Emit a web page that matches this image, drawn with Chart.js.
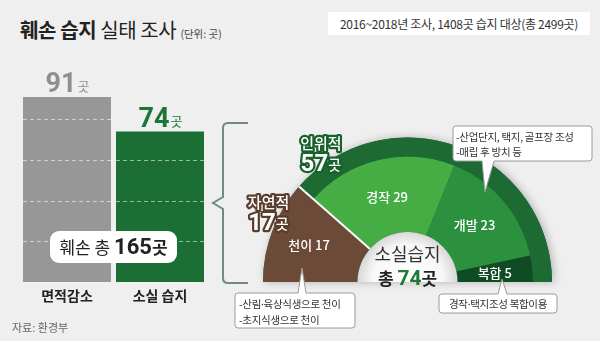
<!DOCTYPE html>
<html><head><meta charset="utf-8">
<script src="https://cdn.jsdelivr.net/npm/chart.js@4/dist/chart.umd.min.js"></script>
<style>
body{margin:0;}
#wrap{position:relative;width:600px;height:358px;background:#efefef;overflow:hidden;font-family:"Noto Sans CJK KR","Noto Sans",sans-serif;}
canvas{position:absolute;left:0;top:0;}
svg{position:absolute;left:0;top:0;}
.t{position:absolute;white-space:nowrap;line-height:1;}
.d{font-family:"Noto Sans",sans-serif;}
</style></head>
<body><div id="wrap">
<div style="position:absolute;left:0;top:341px;width:600px;height:17px;background:#fff"></div>
<div class="t" style="left:20px;top:20px;font-size:20px;color:#222;letter-spacing:-0.4px"><b>훼손 습지</b> 실태 조사 <span style="font-size:10.5px;color:#444;letter-spacing:0">(단위: 곳)</span></div>
<div class="t" style="left:328px;top:12px;width:262px;height:23px;background:#fff;font-size:12px;color:#333;line-height:23px;text-align:center;letter-spacing:-0.3px">2016~2018년 조사, 1408곳 습지 대상(총 2499곳)</div>
<canvas id="bar" width="600" height="358"></canvas>
<canvas id="donut" width="600" height="358"></canvas>
<svg width="600" height="358">
  <path d="M248 123 H228 Q223 123 223 128 V197 L213 203 L223 209 V278 Q223 283 228 283 H248" fill="none" stroke="#6e8c85" stroke-width="2"/>
  <path d="M456 126 H589 Q592 126 592 129 V158 Q592 161 589 161 H494 L485 192 L482 161 H456 Q453 161 453 158 V129 Q453 126 456 126 Z" fill="#fff" stroke="#9a9a9a" stroke-width="1"/>
  <path d="M238 293 H298 L302 268 L306 293 H352 Q355 293 355 296 V325 Q355 328 352 328 H238 Q235 328 235 325 V296 Q235 293 238 293 Z" fill="#fff" stroke="#9a9a9a" stroke-width="1"/>
  <path d="M442 294 H498 L502 279 L507 294 H554 Q557 294 557 297 V310 Q557 313 554 313 H442 Q439 313 439 310 V297 Q439 294 442 294 Z" fill="#fff" stroke="#9a9a9a" stroke-width="1"/>
</svg>
<div class="t" style="left:456px;top:132px;font-size:10.5px;color:#333;letter-spacing:-0.3px">-산업단지, 택지, 골프장 조성</div>
<div class="t" style="left:456px;top:147px;font-size:10.5px;color:#333;letter-spacing:-0.3px">-매립 후 방치 등</div>
<div class="t" style="left:239px;top:299px;font-size:10.5px;color:#333;letter-spacing:-0.3px">-산림<span class="d">·</span>육상식생으로 천이</div>
<div class="t" style="left:239px;top:315px;font-size:10.5px;color:#333;letter-spacing:-0.3px">-초지식생으로 천이</div>
<div class="t" style="left:439px;top:298.5px;width:118px;text-align:center;font-size:10.5px;color:#333;letter-spacing:-0.3px">경작<span class="d">·</span>택지조성 복합이용</div>
<div class="t" style="left:12px;top:322px;font-size:11px;color:#666">자료: 환경부</div>
</div>
<script>
// ---- data ----
const barCats = ['면적감소', '소실 습지'];
const barVals = [91, 74];
const barUnit = '곳';
const gridTicks = [20, 40, 60, 80];
const damagedTotal = 165;

const outerLabels = ['자연적', '인위적'];
const outerVals = [17, 57];
const innerLabels = ['천이', '경작', '개발', '복합'];
const innerVals = [17, 29, 23, 5];
const lostTotal = 74;

const FONT = '"Noto Sans CJK KR","Noto Sans",sans-serif';
const NUMFONT = '"Liberation Sans Narrow","Roboto",sans-serif';

// ---- bar chart ----
const barDeco = {
  id: 'barDeco',
  afterDatasetsDraw(chart) {
    const ctx = chart.ctx, ys = chart.scales.y;
    const meta = chart.getDatasetMeta(0);
    const valColors = ['#8e8e8e', '#1d7636'];
    meta.data.forEach((bar, i) => {
      const l = bar.x - bar.width / 2, r = bar.x + bar.width / 2;
      ctx.save();
      ctx.strokeStyle = 'rgba(255,255,255,0.55)';
      ctx.lineWidth = 1;
      ctx.setLineDash([4, 3]);
      gridTicks.forEach(v => {
        if (v < barVals[i]) {
          const y = Math.round(ys.getPixelForValue(v)) + 0.5;
          ctx.beginPath(); ctx.moveTo(l, y); ctx.lineTo(r, y); ctx.stroke();
        }
      });
      ctx.setLineDash([]);
      const numTxt = String(barVals[i]);
      ctx.font = 'bold 27px ' + NUMFONT;
      const wn = ctx.measureText(numTxt).width;
      ctx.font = '13px ' + FONT;
      const wu = ctx.measureText(barUnit).width;
      const x0 = bar.x - (wn + wu) / 2;
      const by = bar.y - 5;
      ctx.fillStyle = valColors[i];
      ctx.textBaseline = 'alphabetic';
      ctx.textAlign = 'left';
      ctx.font = 'bold 27px ' + NUMFONT;
      ctx.fillText(numTxt, x0, by);
      ctx.font = '13px ' + FONT;
      ctx.fillText(barUnit, x0 + wn + 1, by - 1);
      ctx.fillStyle = '#222';
      ctx.font = 'bold 14px ' + FONT;
      ctx.textAlign = 'center';
      ctx.textBaseline = 'middle';
      ctx.fillText(barCats[i], bar.x, ys.getPixelForValue(0) + 14);
      ctx.restore();
    });
    const b0 = meta.data[0], b1 = meta.data[1];
    const cx = (b0.x + b1.x) / 2, cy = 247;
    ctx.save();
    const w = 127, h = 32, rr = 9;
    ctx.fillStyle = '#fff';
    ctx.beginPath();
    ctx.roundRect(cx - w / 2, cy - h / 2, w, h, rr);
    ctx.fill();
    const p1 = '훼손 총 ', p2 = String(damagedTotal), p3 = barUnit;
    ctx.font = '17px ' + FONT; const w1 = ctx.measureText(p1).width;
    ctx.font = 'bold 22px ' + NUMFONT; const w2 = ctx.measureText(p2).width;
    ctx.font = 'bold 17px ' + FONT; const w3 = ctx.measureText(p3).width;
    let x = cx - (w1 + w2 + w3) / 2;
    ctx.fillStyle = '#222'; ctx.textBaseline = 'alphabetic'; ctx.textAlign = 'left';
    const base = cy + 7;
    ctx.font = '17px ' + FONT; ctx.fillText(p1, x, base); x += w1;
    ctx.font = 'bold 22px ' + NUMFONT; ctx.fillText(p2, x, base); x += w2;
    ctx.font = 'bold 17px ' + FONT; ctx.fillText(p3, x, base);
    ctx.restore();
  }
};

new Chart(document.getElementById('bar'), {
  type: 'bar',
  data: {
    labels: barCats,
    datasets: [{ data: barVals, backgroundColor: ['#979797', '#1b6e34'], borderWidth: 0, barPercentage: 0.946, categoryPercentage: 1 }]
  },
  options: {
    responsive: false, animation: false, events: [],
    layout: { padding: { left: 20.5, right: 393.5, top: 78.7, bottom: 76 } },
    scales: { x: { display: false }, y: { display: false, min: 0, max: 100 } },
    plugins: { legend: { display: false }, tooltip: { enabled: false } }
  },
  plugins: [barDeco]
});

// ---- half donut ----
const donutDeco = {
  id: 'donutDeco',
  beforeDatasetsDraw(chart) {
    const a = chart.getDatasetMeta(0).data[0];
    const ctx = chart.ctx;
    ctx.save();
    ctx.shadowColor = 'rgba(0,0,0,0.25)';
    ctx.shadowBlur = 8;
    ctx.shadowOffsetX = 2;
    ctx.fillStyle = '#1d6b33';
    ctx.beginPath();
    ctx.arc(a.x, a.y, a.outerRadius, Math.PI, 2 * Math.PI);
    ctx.closePath();
    ctx.fill();
    ctx.restore();
  },
  afterDatasetsDraw(chart) {
    const ctx = chart.ctx;
    const outer = chart.getDatasetMeta(0).data;
    const inner = chart.getDatasetMeta(1).data;
    const cx = inner[0].x, cy = inner[0].y;
    const rIn = inner[0].innerRadius, rOut = outer[0].outerRadius;
    ctx.save();
    const sep = inner[0].endAngle;
    ctx.strokeStyle = '#fff'; ctx.lineWidth = 2;
    ctx.beginPath();
    ctx.moveTo(cx + rIn * Math.cos(sep), cy + rIn * Math.sin(sep));
    ctx.lineTo(cx + rOut * Math.cos(sep), cy + rOut * Math.sin(sep));
    ctx.stroke();
    const g = ctx.createRadialGradient(cx, cy - 8, 0, cx, cy, rIn);
    g.addColorStop(0, '#ffffff'); g.addColorStop(0.7, '#f7f7f7'); g.addColorStop(1, '#d8d8d8');
    ctx.fillStyle = g;
    ctx.beginPath(); ctx.arc(cx, cy, rIn, Math.PI, 2 * Math.PI); ctx.closePath(); ctx.fill();
    ctx.textAlign = 'center'; ctx.textBaseline = 'middle';
    ctx.fillStyle = '#333';
    ctx.font = '18px ' + FONT;
    ctx.fillText('소실습지', cx, cy - 28);
    const q1 = '총 ', q2 = String(lostTotal), q3 = '곳';
    ctx.font = 'bold 17px ' + FONT; const w1 = ctx.measureText(q1).width, w3 = ctx.measureText(q3).width;
    ctx.font = 'bold 21px ' + NUMFONT; const w2 = ctx.measureText(q2).width;
    let x = cx - (w1 + w2 + w3) / 2; const yb = cy + 3;
    ctx.textAlign = 'left'; ctx.textBaseline = 'alphabetic';
    ctx.font = 'bold 17px ' + FONT; ctx.fillStyle = '#222'; ctx.fillText(q1, x, yb); x += w1;
    ctx.font = 'bold 21px ' + NUMFONT; ctx.fillStyle = '#1d7a37'; ctx.fillText(q2, x, yb); x += w2;
    ctx.font = 'bold 17px ' + FONT; ctx.fillStyle = '#222'; ctx.fillText(q3, x, yb);
    ctx.textAlign = 'center'; ctx.textBaseline = 'middle';
    ctx.font = '500 13px ' + FONT; ctx.fillStyle = '#fff';
    inner.forEach((arc, i) => {
      const mid = (arc.startAngle + arc.endAngle) / 2;
      let r = (arc.innerRadius + arc.outerRadius) / 2;
      if (i === 0) r = (arc.innerRadius + rOut) / 2 + 8;
      ctx.fillText(innerLabels[i] + ' ' + innerVals[i], cx + r * Math.cos(mid), cy + r * Math.sin(mid));
    });
    const strokeCols = ['#5a3d2c', '#18612d'];
    const offs = [-0.25, 0.26];
    outer.forEach((arc, i) => {
      const ang = sep + offs[i];
      const r = 156;
      const lx = cx + r * Math.cos(ang), ly = cy + r * Math.sin(ang);
      ctx.lineJoin = 'round';
      ctx.strokeStyle = strokeCols[i]; ctx.lineWidth = 4.5; ctx.fillStyle = '#fff';
      ctx.textAlign = 'center'; ctx.textBaseline = 'middle';
      ctx.font = '500 15px ' + FONT;
      ctx.strokeText(outerLabels[i], lx, ly - 9);
      ctx.fillText(outerLabels[i], lx, ly - 9);
      const n = String(outerVals[i]);
      ctx.font = 'bold 24px ' + NUMFONT; const wn = ctx.measureText(n).width;
      ctx.font = '500 14px ' + FONT; const wu = ctx.measureText('곳').width;
      let xx = lx - (wn + wu) / 2;
      ctx.textAlign = 'left'; ctx.textBaseline = 'alphabetic';
      const bl = ly + 19;
      ctx.font = 'bold 24px ' + NUMFONT; ctx.strokeText(n, xx, bl); ctx.fillText(n, xx, bl); xx += wn;
      ctx.font = '500 14px ' + FONT; ctx.strokeText('곳', xx, bl - 1); ctx.fillText('곳', xx, bl - 1);
    });
    ctx.restore();
  }
};

new Chart(document.getElementById('donut'), {
  type: 'doughnut',
  data: {
    labels: innerLabels,
    datasets: [
      { data: outerVals, backgroundColor: ['#6b4a37', '#1d6b33'], borderWidth: 0, weight: 19 },
      { data: innerVals, backgroundColor: ['#6b4a37', '#46ad45', '#2c913f', '#0f4b23'], borderWidth: 0, weight: 75.5 }
    ]
  },
  options: {
    responsive: false, animation: false, events: [],
    circumference: 180, rotation: -90, cutout: '34.6%',
    layout: { padding: { left: 263, right: 48, top: 137.5, bottom: 76 } },
    plugins: { legend: { display: false }, tooltip: { enabled: false } }
  },
  plugins: [donutDeco]
});
</script>
</body></html>
